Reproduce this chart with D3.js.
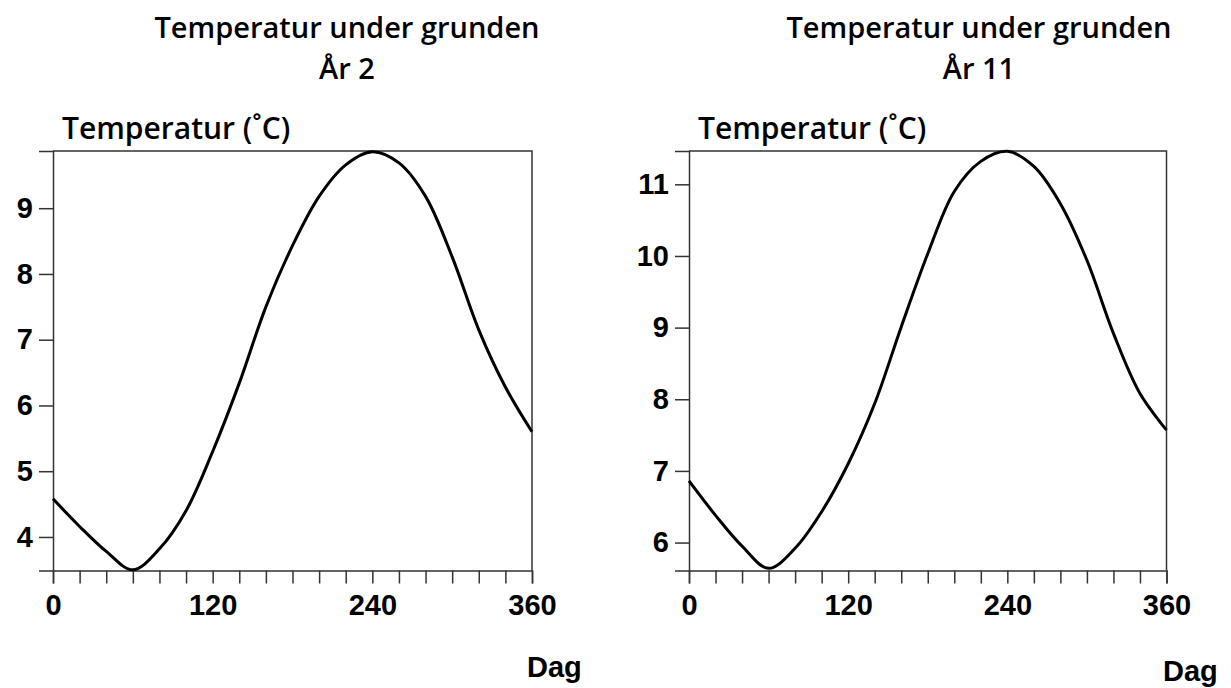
<!DOCTYPE html>
<html>
<head>
<meta charset="utf-8">
<script src="https://cdn.jsdelivr.net/npm/d3@7"></script>
<style>
  html, body { margin: 0; padding: 0; background: #fff; }
  svg { display: block; }
</style>
</head>
<body>
<svg id="chart" width="1231" height="688"></svg>
<script>
// ---- Data ----
const days = [0, 20, 40, 60, 80, 100, 120, 140, 160, 180, 200, 220, 240, 260, 280, 300, 320, 340, 360];
const tempYear2 = [4.58, 4.16, 3.78, 3.50, 3.82, 4.40, 5.30, 6.34, 7.50, 8.43, 9.18, 9.66, 9.86, 9.69, 9.18, 8.26, 7.15, 6.28, 5.60];
const tempYear11 = [6.86, 6.38, 5.95, 5.64, 5.92, 6.43, 7.10, 7.94, 9.01, 10.03, 10.90, 11.32, 11.46, 11.25, 10.73, 9.94, 8.92, 8.08, 7.57];
const xTickValues = [0, 20, 40, 60, 80, 100, 120, 140, 160, 180, 200, 220, 240, 260, 280, 300, 320, 340, 360];
const xTickLabels = [0, 120, 240, 360];
const yTicksYear2 = [4, 5, 6, 7, 8, 9];
const yTicksYear11 = [6, 7, 8, 9, 10, 11];
const titles = ["Temperatur under grunden", "År 2", "År 11"];
const yLabel = "Temperatur (˚C)";
const xLabel = "Dag";

const svg = d3.select("#chart");
const tickFont = "'Liberation Sans', Arial, sans-serif";
const titleFont = "'Open Sans', 'Noto Sans', sans-serif";

function panel(opts) {
  const { left, right, top, bottom, yDomain, yTicks, values, title2, titleX, dagX, dagY } = opts;
  const x = d3.scaleLinear().domain([0, 360]).range([left, right]);
  const y = d3.scaleLinear().domain(yDomain).range([bottom, top]);
  const g = svg.append("g");

  // frame (top & right)
  g.append("path")
    .attr("d", `M${left},${top}H${right}V${bottom}`)
    .attr("fill", "none").attr("stroke", "#333").attr("stroke-width", 1.5);

  // x axis
  const xa = g.append("g").attr("transform", `translate(0,${bottom})`)
    .call(d3.axisBottom(x).tickValues(xTickValues).tickSize(13).tickPadding(11)
      .tickFormat(d => xTickLabels.includes(d) ? d : ""));
  xa.select(".domain").attr("stroke", "#333").attr("stroke-width", 1.5);
  xa.selectAll(".tick line").attr("stroke", "#333").attr("stroke-width", 1.5);
  xa.selectAll("text").attr("font-family", tickFont).attr("font-size", 29)
    .attr("font-weight", "bold").attr("fill", "#000");

  // y axis
  const ya = g.append("g").attr("transform", `translate(${left},0)`)
    .call(d3.axisLeft(y).tickValues(yTicks).tickSize(14).tickPadding(6).tickFormat(d3.format("d")));
  ya.select(".domain").attr("stroke", "#333").attr("stroke-width", 1.5);
  ya.selectAll(".tick line").attr("stroke", "#333").attr("stroke-width", 1.5);
  ya.selectAll("text").attr("font-family", tickFont).attr("font-size", 29)
    .attr("font-weight", "bold").attr("fill", "#000");

  // curve
  const line = d3.line().x((d, i) => x(days[i])).y(d => y(d)).curve(d3.curveCatmullRom.alpha(0.5));
  g.append("path").datum(values).attr("d", line)
    .attr("fill", "none").attr("stroke", "#000").attr("stroke-width", 3);

  // titles
  g.append("text").attr("x", titleX).attr("y", 38).attr("text-anchor", "middle")
    .attr("font-family", titleFont).attr("font-size", 29).attr("font-weight", 600).text(titles[0]);
  g.append("text").attr("x", titleX).attr("y", 79).attr("text-anchor", "middle")
    .attr("font-family", titleFont).attr("font-size", 29).attr("font-weight", 600).text(title2);

  // y label
  g.append("text").attr("x", left + 9).attr("y", 139)
    .attr("font-family", titleFont).attr("font-size", 30).attr("font-weight", 600).text(yLabel);

  // x label
  g.append("text").attr("x", dagX).attr("y", dagY)
    .attr("font-family", tickFont).attr("font-size", 29).attr("font-weight", "bold")
    .attr("fill", "#000").text(xLabel);
}

panel({ left: 53, right: 532, top: 151, bottom: 570.5, yDomain: [3.49, 9.87], yTicks: yTicksYear2,
        values: tempYear2, title2: titles[1], titleX: 347, dagX: 527, dagY: 677 });
panel({ left: 689, right: 1166.5, top: 151, bottom: 570.5, yDomain: [5.61, 11.465], yTicks: yTicksYear11,
        values: tempYear11, title2: titles[2], titleX: 979, dagX: 1163, dagY: 681 });
</script>
</body>
</html>
